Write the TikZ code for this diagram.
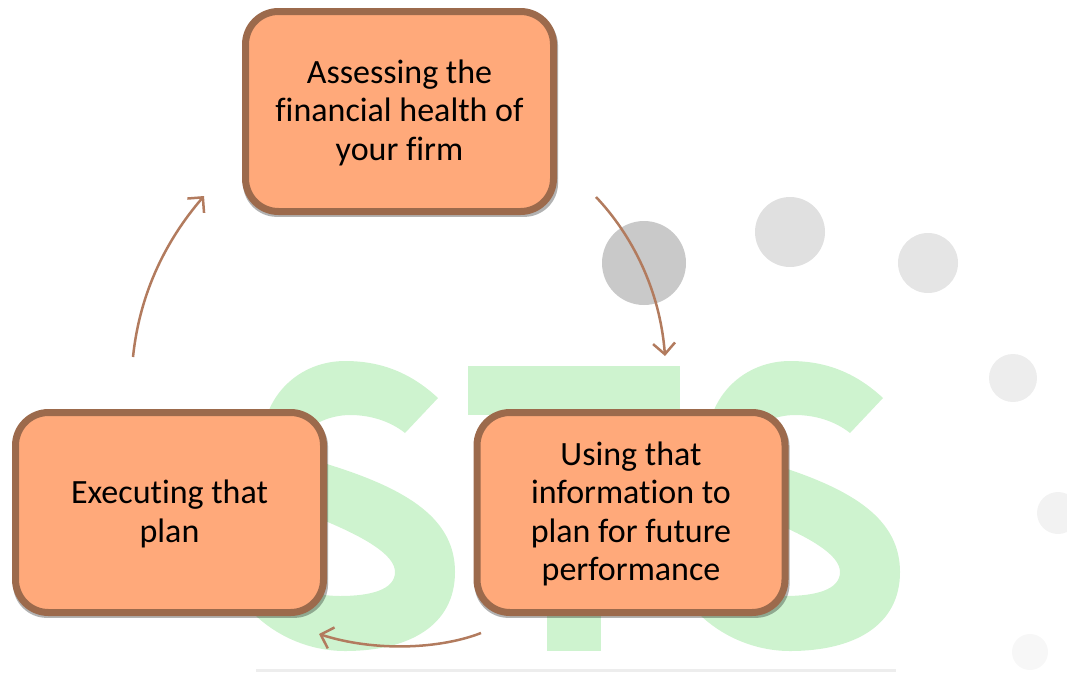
\documentclass[tikz,border=0pt]{standalone}
\usepackage{fontspec}
\setmainfont[RawFeature={-liga;-clig}]{Carlito}
\usetikzlibrary{arrows.meta,shadows}
\definecolor{boxfill}{HTML}{FFA97A}
\definecolor{boxline}{HTML}{9C6A4C}
\definecolor{arrowline}{HTML}{B27B5E}
\definecolor{markgreen}{HTML}{CEF3CF}
\tikzset{
    stepbox/.style={draw=boxline, fill=boxfill, line width=7pt, rounded corners=33pt,
        minimum width=308pt, minimum height=200pt, align=center, text=black, inner sep=0pt,
        font=\fontsize{34pt}{38.5pt}\selectfont,
        drop shadow={shadow scale=1.023, shadow xshift=1pt, shadow yshift=-3pt, opacity=0.3, fill=black}},
    cyclearrow/.style={draw=arrowline, line width=2.5pt, -{Straight Barb[length=11pt, width=22pt]}}
}
\newcommand{\toprow}{\rule{0pt}{26pt}}
\newcommand{\markS}[1]{
    \fill[markgreen, xshift=#1pt] (438,398) .. controls (410,372) and (380,361) .. (345,361)
        .. controls (300,361) and (262,395) .. (262,445)
        .. controls (262,490) and (300,510) .. (330,523)
        .. controls (365,538) and (395,555) .. (395,572)
        .. controls (395,590) and (370,596) .. (340,596)
        .. controls (310,596) and (285,585) .. (268,565)
        -- (240,598)
        .. controls (265,632) and (305,651) .. (345,651)
        .. controls (410,651) and (455,625) .. (455,572)
        .. controls (455,520) and (410,490) .. (330,465)
        .. controls (310,458) and (305,450) .. (305,440)
        .. controls (305,425) and (330,415) .. (350,415)
        .. controls (370,415) and (390,421) .. (405,433) -- cycle;
}
\begin{document}
\begin{tikzpicture}[x=1pt, y=-1pt]
    \useasboundingbox (0,0) rectangle (1067,672);
    % Grey dots
    \foreach \px/\py/\rad/\shade in {644/263/42/21, 790/232/35/12, 928/263/30/10, 1013/378/24/7, 1058/513/21/5, 1030/652/18/3}
    {
    \fill[black!\shade!white] (\px,\py) circle (\rad pt);
    }
    % Watermark
    \markS{0}
    \markS{445}
    \fill[markgreen] (468,366) rectangle (680,415);
    \fill[markgreen] (547,400) rectangle (601,651);
    \fill[black!7] (256,669) rectangle (896,672);
    % Steps
    \node[stepbox] (assess) at (399.5,111.5) {\toprow Assessing the\\financial health of\\your firm};
    \node[stepbox] (plan) at (631,512.5) {\toprow Using that\\information to\\plan for future\\performance};
    \node[stepbox] (execute) at (169.5,512.5) {\toprow Executing that\\plan};
    % Arrows
    \coordinate (assessout) at (596,197);
    \coordinate (planin) at (665,356);
    \coordinate (planout) at (481,633);
    \coordinate (executein) at (319,634);
    \coordinate (executeout) at (133,357);
    \coordinate (assessin) at (204,196);
    \draw[cyclearrow] (assessout) .. controls (632,235) and (660,290) .. (planin);
    \draw[cyclearrow] (planout) .. controls (440,649) and (375,652) .. (executein);
    \draw[cyclearrow] (executeout) .. controls (140,290) and (168,238) .. (assessin);
\end{tikzpicture}
\end{document}
